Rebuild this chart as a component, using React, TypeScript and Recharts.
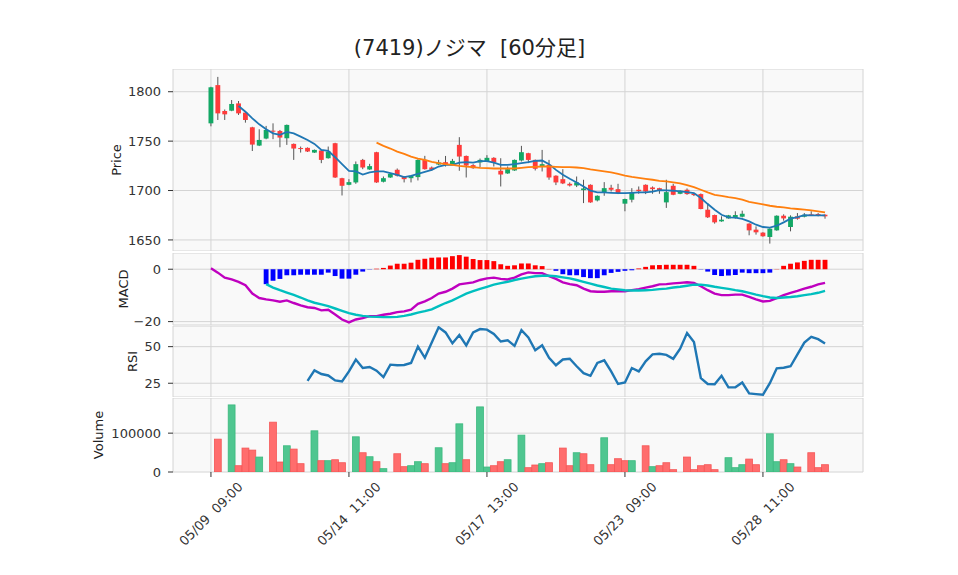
import React from 'react';
import { ComposedChart, Bar, Line, XAxis, YAxis, CartesianGrid } from 'recharts';

// ---------- data ----------
const tickIndex = [0, 20, 40, 60, 80];
const tickLabels = ['05/09  09:00', '05/14  11:00', '05/17  13:00', '05/23  09:00', '05/28  11:00'];

const opens = [
  1768, 1806.7, 1780.5, 1780.8, 1788.2, 1778.8, 1764, 1745.5, 1752.6, 1760.6,
  1760.3, 1752.9, 1747.2, 1743, 1743.2, 1738.4, 1740.5, 1732.7, 1747.9, 1712.5,
  1705.8, 1708.2, 1731, 1721.3, 1738.8, 1708.9, 1713.2, 1721, 1714.2, 1712.5,
  1713.6, 1731, 1723.3, 1726.3, 1728.7, 1726.7, 1746.2, 1735, 1725.7, 1728.4,
  1729.7, 1733.1, 1720, 1717.3, 1720.3, 1730.4, 1737.8, 1731, 1724.3, 1726,
  1715, 1711.5, 1706.8, 1705.1, 1700.4, 1705.8, 1690, 1698.1, 1702.8, 1701.4,
  1686.7, 1690.7, 1700.8, 1705.8, 1703.1, 1702.4, 1688, 1704.8, 1696.7, 1700.8,
  1696.7, 1696.4, 1680.6, 1675.2, 1668.8, 1671.8, 1672.2, 1673.5, 1666.5, 1660.4,
  1657.4, 1653, 1659.7, 1674.5, 1663.1, 1673.9, 1673.5, 1675.9, 1676.2, 1675.5,
];
const highs = [
  1805, 1815, 1782, 1791.6, 1790.6, 1779.5, 1764.5, 1762, 1765.4, 1768,
  1761.3, 1766.8, 1747.6, 1744.5, 1743.6, 1741.5, 1741.1, 1744.5, 1748.3, 1712.9,
  1711.5, 1729.4, 1732, 1727, 1739.2, 1714.2, 1717.6, 1722.3, 1714.6, 1715.3,
  1731.7, 1735.1, 1724.3, 1731, 1735, 1732, 1754, 1735.4, 1726.7, 1732.4,
  1735.8, 1733.7, 1732.7, 1724.3, 1731.4, 1745.2, 1738.2, 1731.4, 1741.1, 1731,
  1715.4, 1721.6, 1708.2, 1714.2, 1710.9, 1706.2, 1695.1, 1708.5, 1705.8, 1706.8,
  1691.8, 1702.4, 1704.1, 1706.2, 1704.1, 1702.8, 1710.9, 1706.8, 1700.2, 1702.1,
  1697.4, 1697, 1687.3, 1675.6, 1673.9, 1675.3, 1679, 1679.6, 1666.9, 1663.7,
  1657.8, 1661.8, 1674.9, 1675.9, 1674.9, 1677.2, 1677.2, 1679, 1677.2, 1675.9,
];
const lows = [
  1765, 1771.4, 1771.4, 1780.3, 1776.5, 1768.7, 1740, 1745, 1751.9, 1752,
  1743.8, 1746.2, 1731, 1738.4, 1739, 1738, 1727.7, 1732.3, 1712.8, 1695,
  1705.4, 1706.8, 1721.6, 1720.9, 1707.8, 1708.2, 1712.8, 1714.2, 1708.2, 1708.2,
  1710.2, 1721.2, 1720, 1725.7, 1724.3, 1726, 1720, 1713.2, 1722, 1723.6,
  1729, 1724.3, 1704.1, 1716.9, 1719.9, 1729.4, 1727.7, 1720.3, 1719.3, 1710.9,
  1705.5, 1706.5, 1704.1, 1703.5, 1687.3, 1687.6, 1689, 1694.7, 1699, 1696.4,
  1679, 1688, 1696.7, 1696.4, 1696.7, 1696.7, 1682.4, 1695.3, 1696.3, 1695.7,
  1694.4, 1681, 1672.2, 1666.5, 1668.4, 1671.5, 1671.5, 1672.8, 1654.7, 1655.4,
  1653.3, 1646.3, 1659.3, 1669.5, 1658.7, 1670.5, 1672.8, 1674.2, 1673.9, 1671.5,
];
const closes = [
  1804.5, 1778.1, 1777.1, 1787.6, 1778.1, 1771.4, 1746.5, 1751.2, 1761.3, 1760,
  1753.6, 1766.4, 1742.5, 1742, 1739.5, 1741.1, 1731, 1739.5, 1713.2, 1704.8,
  1708.5, 1726.7, 1723.3, 1724.7, 1708.2, 1712.5, 1716.9, 1714.9, 1711.5, 1714.9,
  1731, 1721.6, 1721, 1728.4, 1726, 1730, 1734.4, 1725.3, 1722.6, 1731,
  1733.1, 1728.4, 1716.2, 1721.6, 1731, 1738.8, 1731, 1722, 1726.7, 1713.2,
  1708.2, 1707.2, 1705.1, 1708.2, 1702.1, 1688, 1694.7, 1702.4, 1700.8, 1697.4,
  1691.4, 1698.1, 1699.4, 1699.0, 1701.4, 1700.1, 1698.4, 1695.7, 1699.8, 1696.4,
  1695.4, 1681.3, 1672.9, 1667.8, 1670.5, 1674.9, 1675.2, 1676.5, 1659.7, 1657.7,
  1653.7, 1661.4, 1674.5, 1671.8, 1673.5, 1671.5, 1675.5, 1675.2, 1675.0, 1673.9,
];
const volumes = [
  null, 84600, null, 172700, 16200, 61600, 56400, 38500, null, 128300,
  25700, 67500, 59000, 21400, null, 106000, 29100, 29100, 31600, 23900,
  null, 90600, 49600, 39300, 26500, 8600, null, 47000, 13700, 16200,
  26500, 21400, null, 62400, 21400, 23900, 124000, 31600, null, 167600,
  12800, 16200, 26500, 31600, null, 94900, 11100, 18000, 21400, 23900,
  null, 61600, 16200, 49600, 47000, 18800, null, 88100, 18800, 34200,
  29100, 29100, null, 67500, 13700, 16200, 23900, 6000, null, 38500,
  6000, 16200, 18800, 6000, null, 36800, 11100, 18800, 33300, 18800,
  null, 98300, 26500, 31600, 21400, 12800, null, 49600, 11100, 18800,
];
const ma5 = [
  null, null, null, null, 1785.5, 1779.8, 1773.1, 1767.0, 1762.0, 1757.9,
  1756.3, 1759.3, 1757.9, 1754.6, 1751.2, 1747.2, 1741.1, 1740.1, 1733.7, 1726.7,
  1719.9, 1719.3, 1716.2, 1718.3, 1719.3, 1719.3, 1717.6, 1715.9, 1713.5, 1714.9,
  1716.9, 1718.9, 1720.9, 1724.3, 1726.0, 1726.0, 1728.3, 1728.7, 1728.3, 1729.7,
  1729.7, 1728.3, 1726.0, 1726.0, 1726.7, 1727.7, 1728.7, 1730.0, 1730.4, 1726.7,
  1720.9, 1715.9, 1711.9, 1708.2, 1704.1, 1699.8, 1698.1, 1698.1, 1697.7, 1697.4,
  1697.4, 1697.7, 1698.1, 1698.1, 1698.8, 1700.4, 1700.1, 1699.8, 1699.1, 1698.4,
  1697.4, 1692.4, 1686.3, 1680.6, 1675.5, 1672.8, 1672.5, 1671.2, 1668.8, 1665.4,
  1663.1, 1662.4, 1664.4, 1667.8, 1671.5, 1673.2, 1675.2, 1674.9, 1674.9, 1674.9,
];
const ma25 = [
  null, null, null, null, null, null, null, null, null, null,
  null, null, null, null, null, null, null, null, null, null,
  null, null, null, null, 1748.5, 1745.2, 1742.5, 1739.4, 1737.1, 1734.4,
  1732.4, 1731.0, 1729.0, 1727.7, 1726.7, 1726.0, 1725.0, 1724.3, 1723.6, 1723.0,
  1722.6, 1722.3, 1722.3, 1722.3, 1722.3, 1723.0, 1723.6, 1724.0, 1724.3, 1724.3,
  1724.0, 1723.6, 1723.6, 1723.3, 1722.6, 1721.3, 1720.3, 1719.3, 1718.3, 1716.9,
  1715.2, 1713.9, 1712.9, 1711.9, 1710.9, 1709.8, 1709.2, 1708.2, 1707.2, 1705.5,
  1703.5, 1700.8, 1698.1, 1695.7, 1694.7, 1693.4, 1692.4, 1690.7, 1688.6, 1687.3,
  1686.0, 1684.6, 1683.6, 1682.9, 1681.9, 1681.3, 1680.6, 1679.9, 1678.9, 1677.9,
];
const macd = [
  0.4, -1.3, -3.2, -3.9, -4.8, -6.1, -9.3, -11, -11.5, -11.9,
  -12.4, -11.9, -12.9, -13.8, -14.5, -14.8, -15.7, -15.5, -17.3, -19.2,
  -20.3, -19.2, -18.7, -17.9, -17.9, -17.4, -17, -16.4, -16.1, -15.4,
  -13.2, -12.3, -11, -9.3, -8.6, -7.4, -5.8, -5.4, -5, -4.1,
  -3.5, -3.2, -3.7, -3.9, -3.2, -2, -1.2, -1.5, -1.5, -2.6,
  -3.7, -5, -5.7, -6.1, -7.4, -8.4, -8.6, -8.6, -8.4, -8.3,
  -8.4, -8, -7.6, -7, -6.5, -5.8, -5.7, -5.4, -5.2, -5,
  -5.2, -6.5, -8, -9.3, -9.9, -9.9, -9.7, -9.7, -10.6, -11.5,
  -12.3, -12.1, -11, -9.9, -9, -8.3, -7.4, -6.7, -5.8, -5.2,
];
const signal = [
  null, null, null, null, null, null, null, null, -5.7, -7,
  -8, -8.9, -9.8, -10.8, -11.9, -12.8, -13.4, -14.1, -15, -15.9,
  -16.8, -17.4, -17.8, -18.1, -18.2, -18.3, -18.3, -18.2, -17.8, -17.3,
  -16.6, -16, -15.3, -14.1, -12.9, -11.9, -10.6, -9.3, -8.4, -7.5,
  -6.7, -5.9, -5.3, -4.8, -4.1, -3.6, -3.1, -2.7, -2.5, -2.5,
  -2.7, -3.1, -3.5, -4.1, -4.8, -5.5, -6.2, -6.8, -7.4, -7.7,
  -8, -8.1, -8.1, -8, -7.9, -7.6, -7.4, -7, -6.7, -6.3,
  -5.9, -5.9, -6.2, -6.7, -7.1, -7.5, -8, -8.4, -9, -9.7,
  -10.3, -10.8, -11, -10.8, -10.6, -10.3, -9.9, -9.5, -9, -8.3,
];
const hist = [
  null, null, null, null, null, null, null, null, -5.7, -4.4,
  -3.7, -2.3, -2.3, -2.1, -2.1, -2.1, -2.1, -1.3, -2.6, -3.6,
  -3.6, -2.1, -0.9, -0.1, 0.2, 0.5, 1.4, 2.1, 2.1, 2.5,
  3.6, 4.0, 4.4, 4.5, 4.5, 5.0, 5.4, 4.8, 3.9, 3.5,
  3.5, 3.1, 1.9, 1.3, 1.5, 2.2, 2.2, 1.5, 1.2, 0.1,
  -0.6, -1.9, -2.3, -2.3, -3.0, -3.4, -3.4, -2.3, -1.4, -1.0,
  -0.6, -0.4, 0.3, 0.9, 1.5, 1.6, 1.7, 1.7, 1.7, 1.7,
  1.3, -0.1, -0.9, -2.2, -2.6, -2.4, -2.2, -1.3, -1.5, -1.5,
  -1.5, -1.3, 0.1, 1.3, 2.1, 2.6, 3.2, 3.6, 3.6, 3.6,
];
const rsi = [
  null, null, null, null, null, null, null, null, null, null,
  null, null, null, null, 26.6, 33.8, 31.3, 30.3, 26.9, 26.2,
  33.1, 41.2, 35.4, 36.1, 33.6, 29.2, 37.7, 37.3, 37.5, 38.9,
  50, 42.4, 52.8, 63.2, 59.7, 52.3, 57.9, 50.9, 59.7, 62,
  61.6, 58.6, 53.5, 54.4, 50.5, 61.3, 56.3, 47.5, 50.9, 42.4,
  37.3, 41.2, 41.7, 36.6, 31.9, 30.1, 38.9, 40.7, 33.1, 24.5,
  25.5, 35.4, 33.1, 40, 44.7, 45.1, 44.4, 41.7, 48.6, 59.3,
  53.2, 28.5, 24.5, 24.3, 30.1, 22.2, 22.2, 25.5, 18.1, 17.6,
  17.1, 25, 35.2, 35.6, 36.6, 44.7, 52.8, 56.7, 55.1, 52.1,
];

const priceTicks = [1650, 1700, 1750, 1800];
const macdTicks = [-20, 0];
const rsiTicks = [25, 50];
const volTicks = [0, 100000];

const data = opens.map((o, i) => ({
  i,
  o,
  h: highs[i],
  l: lows[i],
  c: closes[i],
  range: [lows[i], highs[i]],
  vol: volumes[i],
  volUp: i > 0 ? closes[i] >= closes[i - 1] : true,
  ma5: ma5[i],
  ma25: ma25[i],
  macd: macd[i],
  signal: signal[i],
  hist: hist[i],
  rsi: rsi[i],
}));

// ---------- layout / style ----------
const W = 958;
const PLOT_L = 173;
const PLOT_R = 863;
const YW = 60;
const MARGIN = { top: 0, bottom: 0, left: PLOT_L - YW, right: W - PLOT_R };
const X_DOMAIN: [number, number] = [-5.5, 94.5];
const FONT = "'DejaVu Sans', 'Noto Sans CJK JP', sans-serif";
const TICK_STYLE = { fill: '#333', fontSize: 13, fontFamily: FONT };
const GRID = '#d4d4d4';
const PANEL_BG = '#f9f9f9';

const Candle = (props: any) => {
  const { x, y, width, height, payload } = props;
  if (!payload || height == null) return null;
  const { o, h, l, c } = payload;
  const top = Math.min(y, y + height);
  const hgt = Math.abs(height);
  const ratio = h > l ? hgt / (h - l) : 0;
  const yo = top + (h - o) * ratio;
  const yc = top + (h - c) * ratio;
  const up = c >= o;
  const cx = x + width / 2;
  const bTop = Math.min(yo, yc);
  const bH = Math.max(Math.abs(yo - yc), 1);
  return (
    <g>
      <line x1={cx} x2={cx} y1={top} y2={top + hgt} stroke="#555" strokeWidth={1} />
      <rect x={x} y={bTop} width={width} height={bH} fill={up ? '#13a865' : '#ff3b3b'} />
    </g>
  );
};

const VolBar = (props: any) => {
  const { x, y, width, height, payload } = props;
  if (!payload || payload.vol == null || !height) return null;
  const top = Math.min(y, y + height);
  const up = payload.volUp;
  return (
    <rect
      x={x}
      y={top}
      width={width}
      height={Math.abs(height)}
      fill={up ? '#4fc690' : '#ff6d6d'}
      stroke={up ? '#3bb97e' : '#f45656'}
      strokeWidth={0.8}
    />
  );
};

const HistBar = (props: any) => {
  const { x, y, width, height, payload } = props;
  if (!payload || payload.hist == null || !height) return null;
  const top = Math.min(y, y + height);
  return <rect x={x} y={top} width={width} height={Math.abs(height)} fill={payload.hist >= 0 ? '#ff0000' : '#0000ff'} />;
};

const XTick = (props: any) => {
  const { x, y, payload } = props;
  const k = tickIndex.indexOf(payload.value);
  const label = k >= 0 ? tickLabels[k] : '';
  const cy = y + 35;
  return (
    <text
      x={x}
      y={cy}
      textAnchor="middle"
      dominantBaseline="central"
      transform={`rotate(-45, ${x}, ${cy})`}
      fontSize={13}
      fontFamily={FONT}
      fill="#333"
      style={{ whiteSpace: 'pre' }}
    >
      {label}
    </text>
  );
};

const minusFmt = (v: number) => (v < 0 ? '\u2212' + Math.abs(v) : String(v));

const yAxisCommon = {
  width: YW,
  axisLine: false,
  tickLine: { stroke: '#333' },
  tickSize: 5,
  tickMargin: 7,
  tick: TICK_STYLE,
  interval: 0 as const,
  allowDataOverflow: true,
};

const Box = ({ top, children }: { top: number; children: React.ReactNode }) => (
  <div style={{ position: 'absolute', left: 0, top }}>{children}</div>
);

export default function App() {
  return (
    <div style={{ position: 'absolute', left: 0, top: 0, width: W, height: 575, background: '#fff', overflow: 'hidden' }}>
      {/* Price */}
      <Box top={69}>
        <ComposedChart width={W} height={182} data={data} margin={MARGIN}>
          <CartesianGrid stroke={GRID} fill={PANEL_BG} />
          <XAxis dataKey="i" type="number" domain={X_DOMAIN} ticks={tickIndex} allowDataOverflow hide />
          <YAxis {...yAxisCommon} domain={[1638.8, 1823]} ticks={priceTicks} />
          <Bar dataKey="range" barSize={4.85} shape={Candle} isAnimationActive={false} />
          <Line dataKey="ma5" stroke="#1f77b4" strokeWidth={1.8} dot={false} isAnimationActive={false} />
          <Line dataKey="ma25" stroke="#ff7f0e" strokeWidth={1.8} dot={false} isAnimationActive={false} />
        </ComposedChart>
      </Box>

      {/* MACD */}
      <Box top={253}>
        <ComposedChart width={W} height={82} data={data} margin={{ ...MARGIN, bottom: 10 }}>
          <CartesianGrid stroke={GRID} fill={PANEL_BG} />
          <XAxis dataKey="i" type="number" domain={X_DOMAIN} ticks={tickIndex} allowDataOverflow hide />
          <YAxis {...yAxisCommon} domain={[-21.3, 6.2]} ticks={macdTicks} tickFormatter={minusFmt} />
          <Bar dataKey="hist" barSize={4.85} shape={HistBar} isAnimationActive={false} />
          <Line dataKey="macd" stroke="#bf00bf" strokeWidth={2.4} dot={false} isAnimationActive={false} />
          <Line dataKey="signal" stroke="#00bfbf" strokeWidth={2.4} dot={false} isAnimationActive={false} />
        </ComposedChart>
      </Box>

      {/* RSI */}
      <Box top={326}>
        <ComposedChart width={W} height={71} data={data} margin={MARGIN}>
          <CartesianGrid stroke={GRID} fill={PANEL_BG} />
          <XAxis dataKey="i" type="number" domain={X_DOMAIN} ticks={tickIndex} allowDataOverflow hide />
          <YAxis {...yAxisCommon} domain={[15.6, 64.1]} ticks={rsiTicks} />
          <Line dataKey="rsi" stroke="#1f77b4" strokeWidth={2.4} dot={false} isAnimationActive={false} />
        </ComposedChart>
      </Box>

      {/* Volume */}
      <Box top={398}>
        <ComposedChart width={W} height={177} data={data} margin={MARGIN}>
          <CartesianGrid stroke={GRID} fill={PANEL_BG} />
          <XAxis
            dataKey="i"
            type="number"
            domain={X_DOMAIN}
            ticks={tickIndex}
            allowDataOverflow
            height={103}
            axisLine={false}
            tickLine={{ stroke: '#333' }}
            tickSize={5}
            interval={0}
            tick={<XTick />}
          />
          <YAxis {...yAxisCommon} domain={[0, 190500]} ticks={volTicks} />
          <Bar dataKey="vol" barSize={6.85} shape={VolBar} isAnimationActive={false} />
        </ComposedChart>
      </Box>

      {/* titles */}
      <svg width={W} height={575} style={{ position: 'absolute', left: 0, top: 0, pointerEvents: 'none' }}>
        <text x={469.5} y={55} textAnchor="middle" fontSize={21} fontFamily={FONT} fill="#222" style={{ whiteSpace: 'pre' }}>
          {'(7419)ノジマ  [60分足]'}
        </text>
        <text x={121} y={160} textAnchor="middle" transform="rotate(-90, 121, 160)" fontSize={13} fontFamily={FONT} fill="#222">Price</text>
        <text x={128} y={289} textAnchor="middle" transform="rotate(-90, 128, 289)" fontSize={13} fontFamily={FONT} fill="#222">MACD</text>
        <text x={137} y={361.5} textAnchor="middle" transform="rotate(-90, 137, 361.5)" fontSize={13} fontFamily={FONT} fill="#222">RSI</text>
        <text x={103} y={435} textAnchor="middle" transform="rotate(-90, 103, 435)" fontSize={13} fontFamily={FONT} fill="#222">Volume</text>
      </svg>
    </div>
  );
}
